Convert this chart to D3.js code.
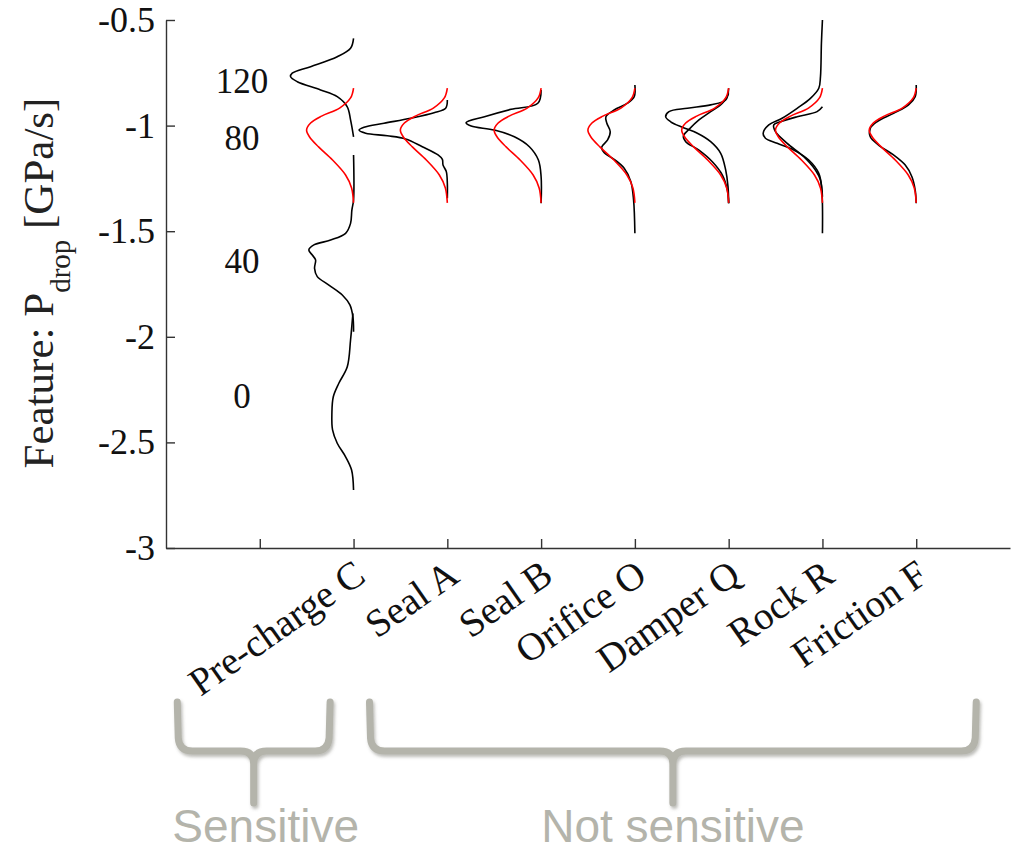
<!DOCTYPE html>
<html>
<head>
<meta charset="utf-8">
<script src="https://cdn.jsdelivr.net/npm/d3@7"></script>
<style>
  body { margin: 0; background: #fff; }
  svg { display: block; }
</style>
</head>
<body>
<div id="chart"></div>
<script>
// categories on the x axis (positions 2..8), tick 1 has no label
const categories = ['Pre-charge C', 'Seal A', 'Seal B', 'Orifice O', 'Damper Q', 'Rock R', 'Friction F'];
const categoryPos = [2, 3, 4, 5, 6, 7, 8];
const xTicks = [1, 2, 3, 4, 5, 6, 7, 8];
const yTicks = [-3, -2.5, -2, -1.5, -1, -0.5];

// densities: [feature value, density width in category units]
const nominal = [[-0.822, 0], [-0.869, 0.032], [-0.917, 0.149], [-0.955, 0.341], [-0.988, 0.458],
  [-1.021, 0.501], [-1.054, 0.469], [-1.101, 0.373], [-1.163, 0.224], [-1.234, 0.085],
  [-1.295, 0.021], [-1.366, 0]];

const precharge120 = [[-0.587, 0], [-0.634, 0.032], [-0.674, 0.174], [-0.721, 0.458], [-0.752, 0.654],
  [-0.768, 0.672], [-0.792, 0.600], [-0.831, 0.352], [-0.863, 0.174], [-0.911, 0.067],
  [-0.973, 0.032], [-1.053, 0]];
const precharge40 = [[-1.139, 0], [-1.352, 0], [-1.400, 0.018], [-1.463, 0.032], [-1.510, 0.085],
  [-1.542, 0.245], [-1.565, 0.423], [-1.589, 0.477], [-1.613, 0.440], [-1.636, 0.405],
  [-1.676, 0.416], [-1.715, 0.387], [-1.755, 0.263], [-1.802, 0.120], [-1.849, 0.039],
  [-1.905, 0.007], [-1.976, 0]];
const precharge0 = [[-1.889, 0.007], [-2.015, 0.032], [-2.142, 0.067], [-2.220, 0.157], [-2.284, 0.216],
  [-2.362, 0.231], [-2.441, 0.224], [-2.504, 0.174], [-2.568, 0.085], [-2.631, 0.021], [-2.725, 0]];
const sealA = [[-0.879, 0], [-0.918, 0.018], [-0.939, 0.142], [-0.965, 0.391], [-0.989, 0.675],
  [-1.008, 0.888], [-1.021, 0.941], [-1.036, 0.871], [-1.048, 0.640], [-1.063, 0.445],
  [-1.100, 0.267], [-1.139, 0.099], [-1.160, 0.053], [-1.187, 0.046], [-1.218, 0.011],
  [-1.273, 0], [-1.344, 0]];
const sealB = [[-0.831, 0], [-0.894, 0.035], [-0.923, 0.320], [-0.958, 0.604], [-0.986, 0.800],
  [-1.002, 0.746], [-1.021, 0.498], [-1.053, 0.285], [-1.100, 0.125], [-1.163, 0.029],
  [-1.242, 0], [-1.368, 0]];
const orifice = [[-0.808, 0], [-0.863, 0.007], [-0.894, 0.078], [-0.926, 0.221], [-0.958, 0.309],
  [-0.989, 0.299], [-1.029, 0.263], [-1.068, 0.291], [-1.103, 0.355], [-1.128, 0.327],
  [-1.160, 0.221], [-1.202, 0.114], [-1.266, 0.043], [-1.352, 0.014], [-1.510, 0]];
const damperA = [[-0.823, 0], [-0.879, 0.032], [-0.902, 0.192], [-0.918, 0.440], [-0.934, 0.636],
  [-0.958, 0.672], [-0.982, 0.618], [-1.008, 0.494], [-1.036, 0.334], [-1.076, 0.192],
  [-1.131, 0.085], [-1.210, 0.032], [-1.289, 0.007], [-1.368, 0]];
const damperB = [[-0.847, 0], [-0.894, 0.067], [-0.934, 0.192], [-0.973, 0.317], [-1.018, 0.423],
  [-1.049, 0.483], [-1.076, 0.458], [-1.116, 0.317], [-1.171, 0.174], [-1.234, 0.067],
  [-1.305, 0.014], [-1.368, 0]];
const rockA = [[-0.500, 0], [-0.610, 0.011], [-0.768, 0.021], [-0.823, 0.039], [-0.871, 0.128],
  [-0.918, 0.270], [-0.965, 0.430], [-0.997, 0.572], [-1.036, 0.632], [-1.060, 0.608],
  [-1.084, 0.483], [-1.116, 0.306], [-1.163, 0.146], [-1.226, 0.039], [-1.305, 0.007], [-1.510, 0]];
const rockB = [[-0.911, 0], [-0.934, 0.057], [-0.958, 0.270], [-0.982, 0.448], [-0.997, 0.519],
  [-1.029, 0.501], [-1.084, 0.376], [-1.147, 0.199], [-1.210, 0.075], [-1.258, 0.021], [-1.337, 0]];
const friction = [[-0.808, 0], [-0.863, 0.011], [-0.902, 0.082], [-0.942, 0.242], [-0.982, 0.419],
  [-1.013, 0.490], [-1.053, 0.490], [-1.092, 0.402], [-1.139, 0.242], [-1.187, 0.117],
  [-1.242, 0.046], [-1.305, 0.011], [-1.368, 0]];

// which category each black density belongs to
const blackCurves = [[2, precharge120], [2, precharge40], [2, precharge0], [3, sealA], [4, sealB],
  [5, orifice], [6, damperA], [6, damperB], [7, rockA], [7, rockB], [8, friction]];

// pre-charge level annotations (x in category units, y in feature units)
const levelLabels = ['120', '80', '40', '0'];
const levelLabelY = [-0.79, -1.06, -1.64, -2.28];
const levelLabelX = 0.81;

// sensitivity groups (x span in category units)
const groupLabels = ['Sensitive', 'Not sensitive'];
const groupSpan = [[0.12, 1.75], [2.17, 8.64]];

const width = 1012, height = 854;
const margin = { top: 20, right: 2, bottom: 306, left: 166 };

const svg = d3.select('#chart').append('svg')
  .attr('width', width)
  .attr('height', height)
  .style('background', '#fff');

const x = d3.scaleLinear().domain([0, 9]).range([margin.left, width - margin.right]);
const y = d3.scaleLinear().domain([-3, -0.5]).range([height - margin.bottom, margin.top]);

const serif = '"Liberation Serif", "Times New Roman", serif';
const axisColor = '#333';

// axes
const yAxis = svg.append('g')
  .attr('transform', `translate(${margin.left},0)`)
  .call(d3.axisLeft(y).tickValues(yTicks).tickFormat(d => String(d))
    .tickSizeInner(-9).tickSizeOuter(0).tickPadding(11));
const xAxis = svg.append('g')
  .attr('transform', `translate(0,${height - margin.bottom})`)
  .call(d3.axisBottom(x).tickValues(xTicks).tickFormat('')
    .tickSizeInner(-9).tickSizeOuter(0));

[yAxis, xAxis].forEach(g => {
  g.select('.domain').attr('stroke', axisColor).attr('stroke-width', 1.4);
  g.selectAll('.tick line').attr('stroke', axisColor).attr('stroke-width', 1.4);
});
yAxis.selectAll('.tick text')
  .attr('fill', '#111')
  .style('font-family', serif)
  .style('font-size', '36px');

// category labels, rotated
svg.append('g').selectAll('text')
  .data(categories)
  .join('text')
  .attr('transform', (d, i) => `translate(${x(categoryPos[i]) + 14},${height - margin.bottom + 32}) rotate(-35)`)
  .attr('text-anchor', 'end')
  .attr('fill', '#111')
  .style('font-family', serif)
  .style('font-size', '39px')
  .text(d => d);

// y axis title
const yTitle = svg.append('text')
  .attr('transform', `translate(53,${y(-1.75) - 1}) rotate(-90)`)
  .attr('text-anchor', 'middle')
  .attr('fill', '#222')
  .style('font-family', serif)
  .style('font-size', '43px');
yTitle.append('tspan').text('Feature: P');
yTitle.append('tspan').attr('dy', 17).style('font-size', '29px').text('drop');
yTitle.append('tspan').attr('dy', -17).text(' [GPa/s]');

// density curves
const line = pos => d3.line()
  .x(d => x(pos - d[1]))
  .y(d => y(d[0]))
  .curve(d3.curveCatmullRom.alpha(0.5));

const curves = svg.append('g').attr('fill', 'none').attr('stroke-linejoin', 'round');

curves.selectAll('path.black')
  .data(blackCurves)
  .join('path')
  .attr('class', 'black')
  .attr('d', d => line(d[0])(d[1]))
  .attr('stroke', '#000')
  .attr('stroke-width', 1.6);

curves.selectAll('path.nominal')
  .data(categoryPos)
  .join('path')
  .attr('class', 'nominal')
  .attr('d', pos => line(pos)(nominal))
  .attr('stroke', '#ff0000')
  .attr('stroke-width', 1.6);

// pre-charge level labels
svg.append('g').selectAll('text')
  .data(levelLabels)
  .join('text')
  .attr('x', x(levelLabelX))
  .attr('y', (d, i) => y(levelLabelY[i]))
  .attr('dy', '0.34em')
  .attr('text-anchor', 'middle')
  .attr('fill', '#111')
  .style('font-family', serif)
  .style('font-size', '35px')
  .text(d => d);

// braces for sensitivity groups
const defs = svg.append('defs');
const shadow = defs.append('filter').attr('id', 'shadow')
  .attr('x', '-10%').attr('y', '-20%').attr('width', '120%').attr('height', '140%');
shadow.append('feDropShadow')
  .attr('dx', 1.5).attr('dy', 2.5).attr('stdDeviation', 1.5)
  .attr('flood-color', '#6d6d66').attr('flood-opacity', 0.45);

const braceTop = 702, braceBar = 751, braceTip = 803, r = 13;
function bracePath(x0, x1) {
  const xm = (x0 + x1) / 2;
  const p = d3.path();
  p.moveTo(x0, braceTop);
  p.lineTo(x0 + 1, braceBar - r);
  p.quadraticCurveTo(x0 + 2, braceBar, x0 + r + 2, braceBar);
  p.lineTo(xm - r, braceBar);
  p.quadraticCurveTo(xm, braceBar, xm, braceBar + r);
  p.lineTo(xm, braceTip);
  p.moveTo(xm, braceBar + r);
  p.quadraticCurveTo(xm, braceBar, xm + r, braceBar);
  p.lineTo(x1 - r - 2, braceBar);
  p.quadraticCurveTo(x1 - 2, braceBar, x1 - 1, braceBar - r);
  p.lineTo(x1, braceTop);
  return p.toString();
}

const braceColor = '#b4b4ab';
svg.append('g')
  .attr('filter', 'url(#shadow)')
  .selectAll('path')
  .data(groupSpan)
  .join('path')
  .attr('d', d => bracePath(x(d[0]), x(d[1])))
  .attr('fill', 'none')
  .attr('stroke', braceColor)
  .attr('stroke-width', 7)
  .attr('stroke-linecap', 'round')
  .attr('stroke-linejoin', 'round');

svg.append('g').selectAll('text')
  .data(groupLabels)
  .join('text')
  .attr('x', (d, i) => (x(groupSpan[i][0]) + x(groupSpan[i][1])) / 2 + (i === 0 ? 12 : 0))
  .attr('y', 842)
  .attr('text-anchor', 'middle')
  .attr('fill', braceColor)
  .style('font-family', '"Liberation Sans", Arial, sans-serif')
  .style('font-size', '46px')
  .text(d => d);
</script>
</body>
</html>
